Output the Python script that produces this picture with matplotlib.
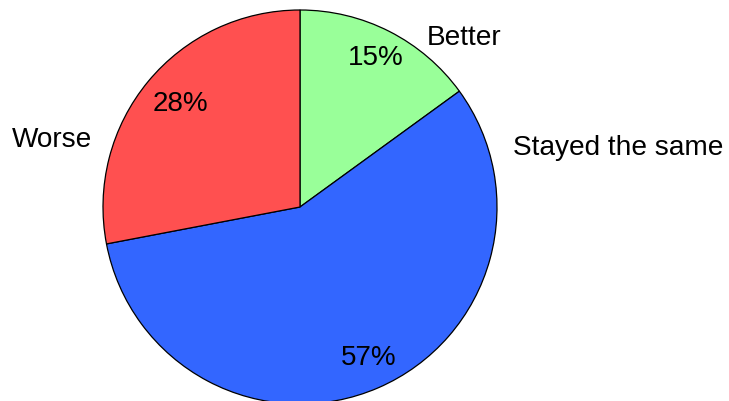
import math
import matplotlib
matplotlib.use("Agg")
import matplotlib.pyplot as plt

categories = ["Better", "Stayed the same", "Worse"]
values = [15, 57, 28]
colors = ["#99FF99", "#3366FF", "#FF5050"]

plt.rcParams['font.family'] = ['Liberation Sans', 'DejaVu Sans']

W, H = 729, 401
fig = plt.figure(figsize=(W / 100, H / 100), dpi=100)
ax = fig.add_axes([0, 0, 1, 1])

cx, cy, r = 300, 207, 197
wedges, texts = ax.pie(values, colors=colors, startangle=90, counterclock=False,
                       wedgeprops=dict(edgecolor="black", linewidth=0.9))

total = sum(values)
pct_dist = [0.85, 0.84, 0.80]
pct_shift = [0, 1, -1]
cum = 0
for v, d, s in zip(values, pct_dist, pct_shift):
    mid = 90 - (cum + v / 2) / total * 360 + s
    cum += v
    ax.text(d * math.cos(math.radians(mid)), d * math.sin(math.radians(mid)),
            f"{round(v / total * 100)}%", ha="center", va="center", fontsize=20)

label_pos = {"Better": (0.645, 0.858, "left"),
             "Stayed the same": (1.081, 0.299, "left"),
             "Worse": (-1.056, 0.340, "right")}
for c in categories:
    x, y, ha = label_pos[c]
    ax.text(x, y, c, ha=ha, va="center", fontsize=20.2)

ax.set_aspect("auto")
ax.set_xlim(-cx / r, (W - cx) / r)
ax.set_ylim(-(H - cy) / r, cy / r)
ax.axis("off")

fig.savefig("out.png", dpi=100)
